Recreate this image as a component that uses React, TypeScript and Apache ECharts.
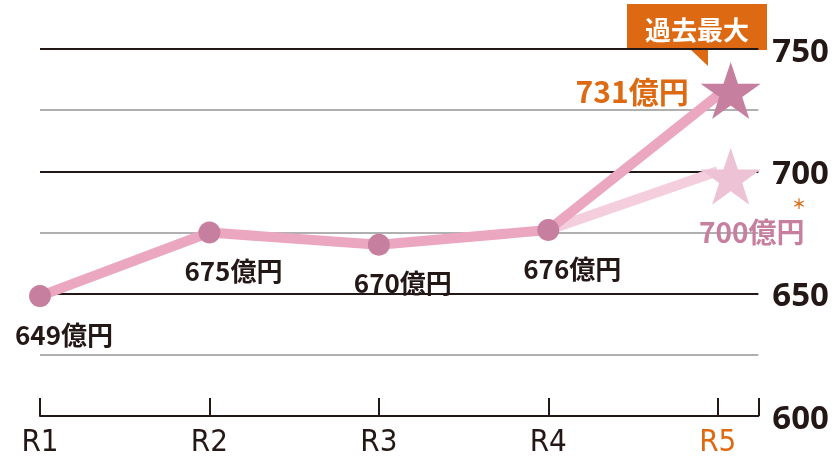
import React, { useEffect, useRef } from "react";
import * as echarts from "echarts";

const categories = ["R1", "R2", "R3", "R4", "R5"];
const actualValues = [649, 675, 670, 676, 731];
const forecastValues: (number | null)[] = [null, null, null, 676, 700];
const yMin = 600;
const yMax = 750;
const yStep = 25;
const unit = "億円";
const calloutText = "過去最大";

const ORANGE = "#dd6a12";
const BLACK = "#231815";
const LINE_PINK = "#eba6c0";
const DOT_PINK = "#c77f9f";
const LIGHT_LINE = "#f4cedc";
const LIGHT_STAR = "#edc2d4";
const STAR =
  "path://M50,0 L61.8,35.3 L98.9,35.3 L68.8,57.1 L80.3,92.7 L50,70.6 L19.7,92.7 L31.2,57.1 L1.1,35.3 L38.2,35.3 Z";
const JP = "'Noto Sans CJK JP', 'Noto Sans', sans-serif";

export default function App() {
  const ref = useRef<HTMLDivElement>(null);
  useEffect(() => {
    document.body.style.margin = "0";
    const chart = echarts.init(ref.current!, null, { renderer: "svg" });
    const last = categories.length - 1;

    const actualData = actualValues.map((v, i) => {
      if (i === last) {
        return {
          value: [i, v],
          symbol: STAR,
          symbolSize: [60, 57],
          symbolOffset: [13, -5],
          itemStyle: { color: DOT_PINK },
          label: {
            show: true,
            position: "left",
            distance: 12,
            offset: [0, 0],
            color: ORANGE,
            fontSize: 30,
            fontWeight: "bold",
            fontFamily: JP,
          },
        };
      }
      return { value: [i, v] };
    });

    const forecastData = forecastValues
      .map((v, i) => (v === null ? null : { i, v }))
      .filter((d) => d !== null)
      .map((d: any) => {
        if (d.i === last) {
          return {
            value: [d.i, d.v],
            symbol: STAR,
            symbolSize: [60, 57],
            symbolOffset: [13, 5],
            itemStyle: { color: LIGHT_STAR },
            label: {
              show: true,
              position: "bottom",
              distance: 12,
              offset: [21, 0],
              color: DOT_PINK,
              fontSize: 28,
              fontWeight: "bold",
              fontFamily: JP,
            },
          };
        }
        return { value: [d.i, d.v], symbol: "none" };
      });

    chart.setOption({
      animation: false,
      grid: { left: 40, right: 72, top: 49, bottom: 46, containLabel: false },
      xAxis: {
        type: "value",
        min: 0,
        max: 4.24,
        interval: 1,
        axisLine: { show: true, lineStyle: { color: BLACK, width: 2 } },
        axisTick: { show: true, inside: true, length: 18, lineStyle: { color: BLACK, width: 2 } },
        splitLine: { show: false },
        axisLabel: {
          margin: 8,
          fontSize: 31,
          fontFamily: "'DejaVu Sans Condensed', 'Liberation Sans Narrow', sans-serif",
          color: BLACK,
          formatter: (v: number) => {
            const c = categories[v];
            if (c === undefined) return "";
            return v === last ? `{o|${c}}` : c;
          },
          rich: { o: { color: ORANGE } },
        },
      },
      yAxis: {
        type: "value",
        position: "right",
        min: yMin,
        max: yMax,
        interval: yStep,
        axisLine: { show: false },
        axisTick: { show: false },
        splitLine: {
          show: true,
          lineStyle: { color: [BLACK, "#b0b0b0"], width: 2 },
        },
        axisLabel: {
          margin: 14,
          fontSize: 33,
          fontWeight: "bold",
          fontFamily: "'Noto Sans', sans-serif",
          color: BLACK,
          formatter: (v: number) => (v % 50 === 0 ? String(v) : ""),
        },
      },
      series: [
        {
          type: "line",
          data: forecastData,
          symbol: "none",
          lineStyle: { color: LIGHT_LINE, width: 10 },
          itemStyle: { color: LIGHT_STAR },
          label: {
            show: false,
            formatter: (p: any) => `${p.value[1]}${unit}`,
          },
          z: 2,
        },
        {
          type: "line",
          data: actualData,
          symbol: "circle",
          symbolSize: 22,
          lineStyle: { color: LINE_PINK, width: 10 },
          itemStyle: { color: DOT_PINK },
          label: {
            show: true,
            position: "bottom",
            distance: 13,
            offset: [24, 0],
            color: BLACK,
            fontSize: 26,
            fontWeight: "bold",
            fontFamily: JP,
            formatter: (p: any) => `${p.value[1]}${unit}`,
          },
          z: 3,
        },
      ],
      graphic: [
        {
          type: "group",
          z: 10,
          children: [
            { type: "rect", shape: { x: 627, y: 4, width: 140, height: 46 }, style: { fill: ORANGE } },
            { type: "polygon", shape: { points: [[690, 49], [708, 49], [708, 66]] }, style: { fill: ORANGE } },
            {
              type: "text",
              x: 697,
              y: 28,
              style: {
                text: calloutText,
                fill: "#fff",
                fontSize: 26,
                fontWeight: "bold",
                fontFamily: JP,
                align: "center",
                verticalAlign: "middle",
              },
            },
          ],
        },
        {
          type: "text",
          x: 799,
          y: 203,
          z: 10,
          style: {
            text: "＊",
            fill: ORANGE,
            fontSize: 14,
            fontWeight: "bold",
            fontFamily: JP,
            align: "center",
            verticalAlign: "middle",
          },
        },
      ],
    });
    return () => chart.dispose();
  }, []);
  return <div ref={ref} style={{ position: "fixed", left: 0, top: 0, width: 832, height: 462 }} />;
}
